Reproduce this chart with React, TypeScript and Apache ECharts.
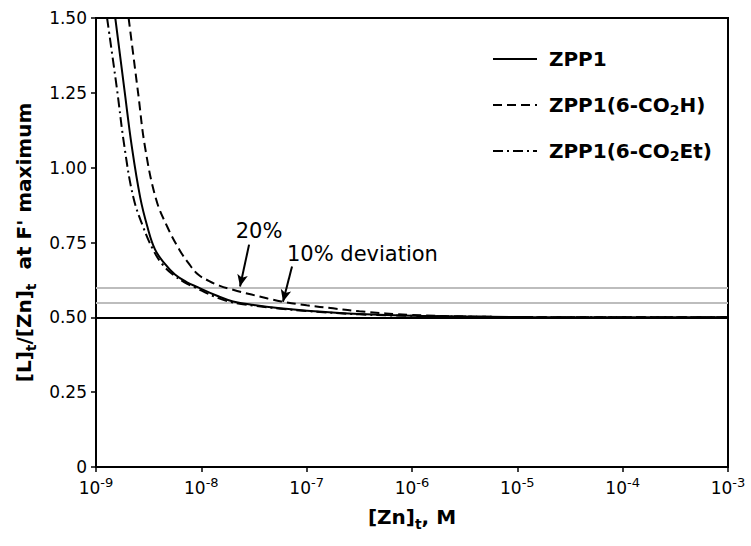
import React, { useEffect, useRef } from 'react';
import * as echarts from 'echarts';

const FONT = '"DejaVu Sans", "Liberation Sans", Arial, sans-serif';

// Series names
const seriesNames = ['ZPP1', 'ZPP1(6-CO2H)', 'ZPP1(6-CO2Et)'];

// ZPP1 (solid)
const zpp1Conc = [1.524e-9, 1.862e-9, 2.188e-9, 2.63e-9, 3.09e-9, 3.63e-9, 4.47e-9, 5.62e-9, 7.24e-9, 9.33e-9, 1.41e-8, 2.0e-8, 3.16e-8, 5.62e-8, 1e-7, 3.16e-7, 1e-6, 1e-5, 1e-4, 1e-3];
const zpp1Ratio = [1.5, 1.26, 1.07, 0.9, 0.8, 0.727, 0.68, 0.643, 0.618, 0.6, 0.572, 0.553, 0.541, 0.53, 0.522, 0.511, 0.505, 0.501, 0.5, 0.5];

// ZPP1(6-CO2H) (dashed)
const acidConc = [2.04e-9, 2.51e-9, 2.917e-9, 3.715e-9, 4.786e-9, 6.166e-9, 7.586e-9, 9.33e-9, 1.175e-8, 1.48e-8, 2.0e-8, 3.0e-8, 4.27e-8, 5.75e-8, 1e-7, 1.78e-7, 3.16e-7, 1e-6, 3.16e-6, 1e-5, 1e-4, 1e-3];
const acidRatio = [1.5, 1.25, 1.07, 0.895, 0.8, 0.727, 0.68, 0.643, 0.622, 0.606, 0.592, 0.576, 0.563, 0.553, 0.54, 0.53, 0.52, 0.508, 0.503, 0.501, 0.5, 0.5];

// ZPP1(6-CO2Et) (dash-dot)
const esterConc = [1.274e-9, 1.585e-9, 1.862e-9, 2.265e-9, 2.818e-9, 3.47e-9, 4.27e-9, 5.37e-9, 6.92e-9, 8.71e-9, 1.318e-8, 1.905e-8, 3.16e-8, 5.62e-8, 1e-7, 3.16e-7, 1e-6, 1e-5, 1e-4, 1e-3];
const esterRatio = [1.5, 1.26, 1.07, 0.9, 0.8, 0.727, 0.677, 0.643, 0.617, 0.6, 0.57, 0.551, 0.539, 0.529, 0.521, 0.51, 0.505, 0.501, 0.5, 0.5];

// Axes
const xMin = 1e-9;
const xMax = 1e-3;
const yMin = 0;
const yMax = 1.5;
const yStep = 0.25;

// Reference levels
const deviationLevels = [0.6, 0.55];
const stoichLevel = 0.5;

// Annotations
const annotationTexts = ['20%', '10% deviation'];
const annotationAnchors: [number, number][] = [[3.53e-8, 0.79], [6.5e-8, 0.71]];
const annotationAligns = ['center', 'left'];
const arrowTails: [number, number][] = [[2.84e-8, 0.743], [7.26e-8, 0.67]];
const arrowHeads: [number, number][] = [[2.33e-8, 0.603], [5.96e-8, 0.552]];

const dashTypes: any[] = ['solid', [9, 5], [10, 4, 2, 4]];

const subRich = {
  sub: { fontSize: 14, fontWeight: 'bold', fontFamily: FONT, lineHeight: 10, verticalAlign: 'bottom', color: '#000' },
};

function toPairs(xs: number[], ys: number[]) {
  return xs.map((x, i) => [x, ys[i]]);
}

export default function App() {
  const ref = useRef<HTMLDivElement>(null);

  useEffect(() => {
    if (!ref.current) return;
    const chart = echarts.init(ref.current, undefined, { renderer: 'svg' });
    const datasets = [toPairs(zpp1Conc, zpp1Ratio), toPairs(acidConc, acidRatio), toPairs(esterConc, esterRatio)];

    const series: any[] = seriesNames.map((name, i) => ({
      name,
      type: 'line',
      data: datasets[i],
      symbol: 'none',
      smooth: 0.4,
      lineStyle: { color: '#000', width: 2, type: dashTypes[i] },
      itemStyle: { color: '#000' },
      z: 5,
    }));

    series.push({
      name: 'refs',
      type: 'line',
      data: [],
      symbol: 'none',
      silent: true,
      markLine: {
        silent: true,
        symbol: ['none', 'none'],
        label: { show: false },
        animation: false,
        data: [
          ...deviationLevels.map((v) => ({ yAxis: v, lineStyle: { color: '#bdbdbd', width: 2, type: 'solid' } })),
          { yAxis: stoichLevel, lineStyle: { color: '#000', width: 2, type: 'solid' } },
        ],
      },
      z: 3,
    });

    series.push({
      name: 'arrows',
      type: 'line',
      data: [],
      symbol: 'none',
      silent: true,
      markLine: {
        silent: true,
        symbol: ['none', 'arrow'],
        symbolSize: [8, 12],
        label: { show: false },
        animation: false,
        lineStyle: { color: '#000', width: 2, type: 'solid' },
        data: arrowTails.map((t, i) => [{ coord: t }, { coord: arrowHeads[i] }]),
      },
      markPoint: {
        silent: true,
        symbol: 'circle',
        symbolSize: 0,
        animation: false,
        data: annotationTexts.map((txt, i) => ({
          coord: annotationAnchors[i],
          label: {
            show: true,
            formatter: txt,
            position: 'inside',
            align: annotationAligns[i],
            verticalAlign: 'middle',
            color: '#000',
            fontSize: 21,
            fontFamily: FONT,
          },
        })),
      },
      z: 6,
    });

    chart.setOption({
      animation: false,
      backgroundColor: '#fff',
      grid: { left: 96, right: 23, top: 18, bottom: 79, show: true, borderColor: '#000', borderWidth: 2 },
      legend: {
        data: seriesNames,
        orient: 'vertical',
        left: 487,
        top: 42,
        itemWidth: 44,
        itemHeight: 14,
        itemGap: 22,
        itemStyle: { opacity: 0, borderWidth: 0 },
        formatter: (n: string) => ' ' + n.replace('CO2', 'CO{sub|2}'),
        textStyle: {
          fontSize: 20,
          fontWeight: 'bold',
          fontFamily: FONT,
          color: '#000',
          lineHeight: 24,
          rich: subRich,
        },
      },
      xAxis: {
        type: 'log',
        logBase: 10,
        min: xMin,
        max: xMax,
        splitNumber: 6,
        name: '[Zn]{sub|t}, M',
        nameLocation: 'middle',
        nameGap: 36,
        nameTextStyle: { fontSize: 20, fontWeight: 'bold', fontFamily: FONT, color: '#000', lineHeight: 28, rich: subRich },
        axisLine: { show: true, lineStyle: { color: '#000', width: 2 } },
        axisTick: { show: true, inside: false, length: 5, lineStyle: { color: '#000', width: 1.5 } },
        minorTick: { show: false },
        splitLine: { show: false },
        axisLabel: {
          margin: 9,
          formatter: (v: number) => `{b|10}{s|${Math.round(Math.log10(v))}}`,
          rich: {
            b: { fontSize: 17, fontFamily: FONT, color: '#000', lineHeight: 20, verticalAlign: 'bottom' },
            s: { fontSize: 13, fontFamily: FONT, color: '#000', lineHeight: 12, verticalAlign: 'top' },
          },
        },
      },
      yAxis: {
        type: 'value',
        min: yMin,
        max: yMax,
        interval: yStep,
        name: "[L]{sub|t}/[Zn]{sub|t}  at F' maximum",
        nameLocation: 'middle',
        nameGap: 58,
        nameTextStyle: { fontSize: 20, fontWeight: 'bold', fontFamily: FONT, color: '#000', lineHeight: 28, rich: subRich },
        axisLine: { show: true, lineStyle: { color: '#000', width: 2 } },
        axisTick: { show: true, inside: false, length: 5, lineStyle: { color: '#000', width: 1.5 } },
        splitLine: { show: false },
        axisLabel: {
          margin: 9,
          fontSize: 17,
          fontFamily: FONT,
          color: '#000',
          formatter: (v: number) => (v === 0 ? '0' : v.toFixed(2)),
        },
      },
      series,
    });

    return () => chart.dispose();
  }, []);

  return <div ref={ref} style={{ position: 'fixed', left: 0, top: 0, width: 751, height: 546 }} />;
}
